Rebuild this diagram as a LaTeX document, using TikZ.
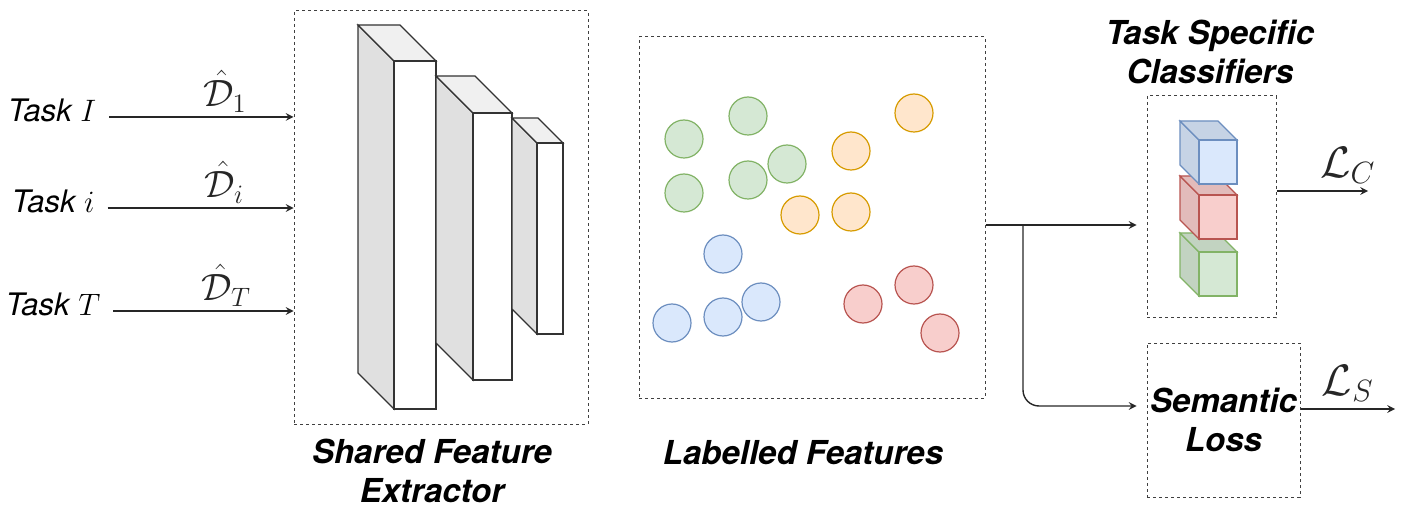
\documentclass[tikz,border=0pt]{standalone}
\usepackage{fix-cm}
\usepackage{amsmath,amssymb}
\usepackage{fontspec}
\setsansfont{TeX Gyre Heros}
\usepackage{tikz}
\usetikzlibrary{arrows}
\definecolor{fgreen}{RGB}{213, 232, 212}
\definecolor{lgreen}{RGB}{130, 179, 102}
\definecolor{forange}{RGB}{255, 230, 204}
\definecolor{lorange}{RGB}{215, 155, 0}
\definecolor{fblue}{RGB}{218, 232, 252}
\definecolor{lblue}{RGB}{108, 142, 191}
\definecolor{fred}{RGB}{248, 206, 204}
\definecolor{lred}{RGB}{184, 84, 80}
\definecolor{sidegray}{RGB}{224, 224, 224}
\definecolor{topgray}{RGB}{240, 240, 240}

\begin{document}
\begin{tikzpicture}[x=0.5pt,y=-0.5pt,
  dbox/.style={draw=black!75,dash pattern=on 1.5pt off 1.5pt,line width=0.5pt,inner sep=0pt},
  feat/.style={circle,draw=l#1,fill=f#1,line width=0.6pt,minimum size=19pt,inner sep=0pt},
  layer/.style={draw=black!80,line width=0.6pt},
  conn/.style={-stealth,color=black!85,line width=0.7pt},
  task/.style={font=\fontsize{15.5}{18}\sffamily\itshape},
  title/.style={font=\fontsize{16.5}{19.5}\sffamily\bfseries\itshape,align=center},
  lab/.style={font=\fontsize{19}{21}\selectfont,inner sep=2pt},
  loss/.style={font=\fontsize{22}{24}\selectfont}]
  \useasboundingbox (0,0) rectangle (1403,518);

  \node[task,anchor=mid] (t1) at (52,117) {Task $I$};
  \node[task,anchor=mid] (ti) at (53,208) {Task $i$};
  \node[task,anchor=mid] (tT) at (53,311) {Task $T$};

  \node[dbox,minimum width=147pt,minimum height=206.5pt] (fe) at (441,217.5) {};
  \foreach \x/\y/\w/\h/\d in {394/61/42/348/36, 473/113/39/267/37, 537/143/26/191/25} {
    \draw[layer,fill=sidegray] (\x-\d,\y-\d) -- (\x,\y) -- (\x,\y+\h) -- (\x-\d,\y+\h-\d) -- cycle;
    \draw[layer,fill=topgray] (\x-\d,\y-\d) -- (\x+\w-\d,\y-\d) -- (\x+\w,\y) -- (\x,\y) -- cycle;
    \draw[layer,fill=white] (\x,\y) rectangle (\x+\w,\y+\h);
  }
  \node[title] (sfe) at (432,471) {Shared Feature\\Extractor};

  \path[conn,shorten <=3pt]
    (t1.mid east) edge node[lab,above,pos=0.64] {$\hat{\mathcal{D}}_1$} (fe.west |- t1.mid)
    (ti.mid east) edge node[lab,above,pos=0.64] {$\hat{\mathcal{D}}_i$} (fe.west |- ti.mid)
    (tT.mid east) edge node[lab,above,pos=0.64] {$\hat{\mathcal{D}}_T$} (fe.west |- tT.mid);

  \node[dbox,minimum width=173pt,minimum height=180.5pt] (lf) at (812,217.5) {};
  \foreach \c/\x/\y [count=\n] in {green/684/139, green/748/116, green/684/193, green/748/180, green/787/164,
      orange/914/113, orange/851/151, orange/800/215, orange/851/212,
      blue/723/254, blue/672/323, blue/723/317, blue/761/302,
      red/863/304, red/914/285, red/940/333}
    \node[feat=\c] (f\n) at (\x,\y) {};
  \node[title] (lft) at (803,453) {Labelled Features};

  \node[dbox,minimum width=64.5pt,minimum height=111pt] (cls) at (1211.5,207) {};
  \foreach \c/\y in {green/233, red/176, blue/121} {
    \draw[draw=l\c,line width=0.6pt,fill=f\c!91!black] (1180,\y) -- (1199,\y+19) -- (1199,\y+63) -- (1180,\y+44) -- cycle;
    \draw[draw=l\c,line width=0.6pt,fill=f\c!91!black] (1180,\y) -- (1218,\y) -- (1237,\y+19) -- (1199,\y+19) -- cycle;
    \draw[draw=l\c,line width=0.6pt,fill=f\c] (1199,\y+19) rectangle (1237,\y+63);
  }
  \node[title] (tsc) at (1210,52) {Task Specific\\Classifiers};

  \node[dbox,title,minimum width=76.5pt,minimum height=77pt] (sem) at (1223.5,420) {Semantic\\Loss};

  \coordinate (split) at (1023,225);
  \coordinate (lcend) at (1368,191);
  \coordinate (lsend) at (1395,409);
  \draw[conn,shorten >=5pt] (lf.east |- split) -- (cls.west |- split);
  \draw[conn,rounded corners=8pt,shorten >=5pt] (split) |- ([yshift=7pt]sem.west);
  \draw[conn] (cls.east |- lcend) -- node[loss,above,pos=0.78] {$\mathcal{L}_C$} (lcend);
  \draw[conn] (sem.east |- lsend) -- node[loss,above] {$\mathcal{L}_S$} (lsend);
\end{tikzpicture}
\end{document}
